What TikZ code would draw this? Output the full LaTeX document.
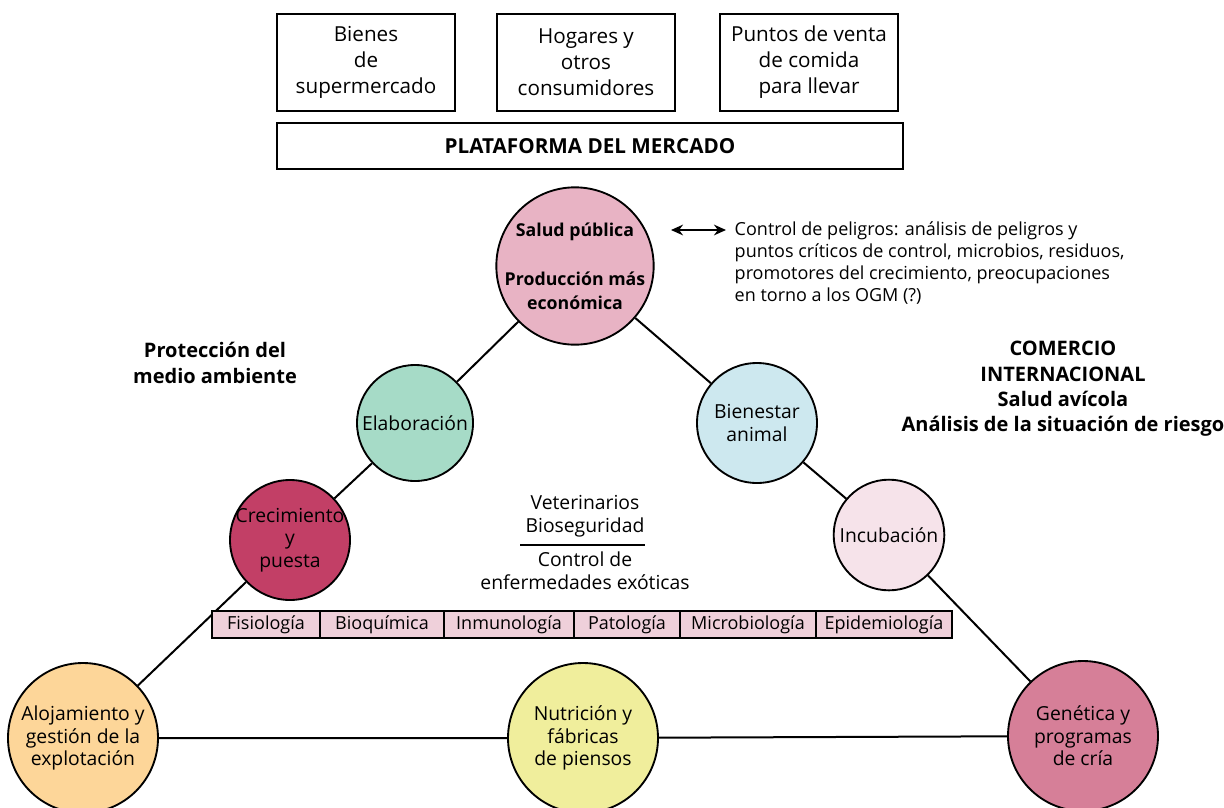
\documentclass[tikz,border=0pt]{standalone}
\usepackage{fontspec}
\setmainfont{Open Sans}
\usetikzlibrary{positioning,arrows.meta}

\definecolor{saludrosa}{HTML}{E8B3C4}
\definecolor{elabverde}{HTML}{A6DBC7}
\definecolor{bienazul}{HTML}{CDE8EF}
\definecolor{crecrojo}{HTML}{C23F66}
\definecolor{incurosa}{HTML}{F6E3EA}
\definecolor{alojnaranja}{HTML}{FDD699}
\definecolor{nutramarillo}{HTML}{F0EE9C}
\definecolor{generosa}{HTML}{D67F98}
\definecolor{celdarosa}{HTML}{EFD0DA}

\begin{document}
\begin{tikzpicture}[x=0.75pt,y=-0.75pt,
  every node/.style={align=center,font=\fontsize{14.5}{17}\selectfont},
  topbox/.style={draw,line width=1.4pt,minimum width=133.5pt,minimum height=72.75pt,
    font=\fontsize{15.5}{19.5}\selectfont},
  area/.style={circle,draw,line width=1.4pt,inner sep=0pt},
  celda/.style={draw,fill=celdarosa,line width=1.2pt,minimum height=20.25pt,inner sep=0pt,
    outer sep=0pt,font=\fontsize{13.5}{16}\selectfont},
  enlace/.style={line width=1.5pt},
  titulo/.style={font=\bfseries\fontsize{15}{19}\selectfont}]
  \useasboundingbox (0,0) rectangle (1224,807);

  % mercado
  \node[topbox] (bienes) at (366,62.5) {Bienes\\de\\supermercado};
  \node[topbox] (hogares) at (586,62.5) {Hogares y\\otros\\consumidores};
  \node[topbox] (puntos) at (809,62.5) {Puntos de venta\\de comida\\para llevar};
  \node[draw,line width=1.4pt,minimum width=469.5pt,minimum height=34.5pt,
    font=\bfseries\fontsize{15.5}{19}\selectfont] (plataforma) at (590,146) {PLATAFORMA DEL MERCADO};

  % triangulo
  \node[area,fill=saludrosa,minimum size=118pt,inner sep=-9pt,font=\bfseries\fontsize{13.3}{18}\selectfont]
    (salud) at (575,266) {Salud pública\\[19pt]Producción más\\económica};
  \node[area,fill=elabverde,minimum size=87pt] (elab) at (415,423) {Elaboración};
  \node[area,fill=bienazul,minimum size=90pt] (bienestar) at (757,423) {Bienestar\\animal};
  \node[area,fill=crecrojo,minimum size=90pt,inner sep=-8pt] (crec) at (290,540) {Crecimiento\\y\\puesta};
  \node[area,fill=incurosa,minimum size=83pt] (incu) at (889,535) {Incubación};
  \node[area,fill=alojnaranja,minimum size=112.5pt] (aloj) at (83,738) {Alojamiento y\\gestión de la\\explotación};
  \node[area,fill=nutramarillo,minimum size=112.5pt] (nutr) at (583,738) {Nutrición y\\fábricas\\de piensos};
  \node[area,fill=generosa,minimum size=112.5pt] (gene) at (1083,736) {Genética y\\programas\\de cría};

  \draw[enlace] (salud) -- (elab) -- (crec) -- (aloj) -- (nutr) -- (gene) -- (incu) -- (bienestar) -- (salud);

  % peligros
  \node[anchor=north west,align=left,font=\fontsize{13.5}{16.5}\selectfont] (peligros) at (730,217)
    {Control de peligros: análisis de peligros y\\puntos críticos de control, microbios, residuos,\\promotores del crecimiento, preocupaciones\\en torno a los OGM (?)};
  \coordinate (flechaizq) at (671,230);
  \coordinate (flechader) at (726,230);
  \draw[line width=1.5pt,{Stealth[length=9pt,width=8pt]}-{Stealth[length=9pt,width=8pt]}] (flechaizq) -- (flechader);

  % rotulos
  \node[titulo] (proteccion) at (215,363) {Protección del\\medio ambiente};
  \node[titulo] (comercio) at (1063,389) {COMERCIO\\INTERNACIONAL\\Salud avícola\\Análisis de la situación de riesgo};

  % centro
  \node (vet) at (585,516) {Veterinarios\\Bioseguridad};
  \coordinate (barraizq) at (520,545);
  \coordinate (barrader) at (645,545);
  \draw[line width=1.5pt] (barraizq) -- (barrader);
  \node (exoticas) at (585,571) {Control de\\enfermedades exóticas};

  % disciplinas
  \node[celda,minimum width=81pt,anchor=west] (fisio) at (212,624.5) {Fisiología};
  \node[celda,minimum width=93pt,right=0pt of fisio] (bioq) {Bioquímica};
  \node[celda,minimum width=97.5pt,right=0pt of bioq] (inmuno) {Inmunología};
  \node[celda,minimum width=79.5pt,right=0pt of inmuno] (pato) {Patología};
  \node[celda,minimum width=102pt,right=0pt of pato] (micro) {Microbiología};
  \node[celda,minimum width=102pt,right=0pt of micro] (epi) {Epidemiología};
\end{tikzpicture}
\end{document}
